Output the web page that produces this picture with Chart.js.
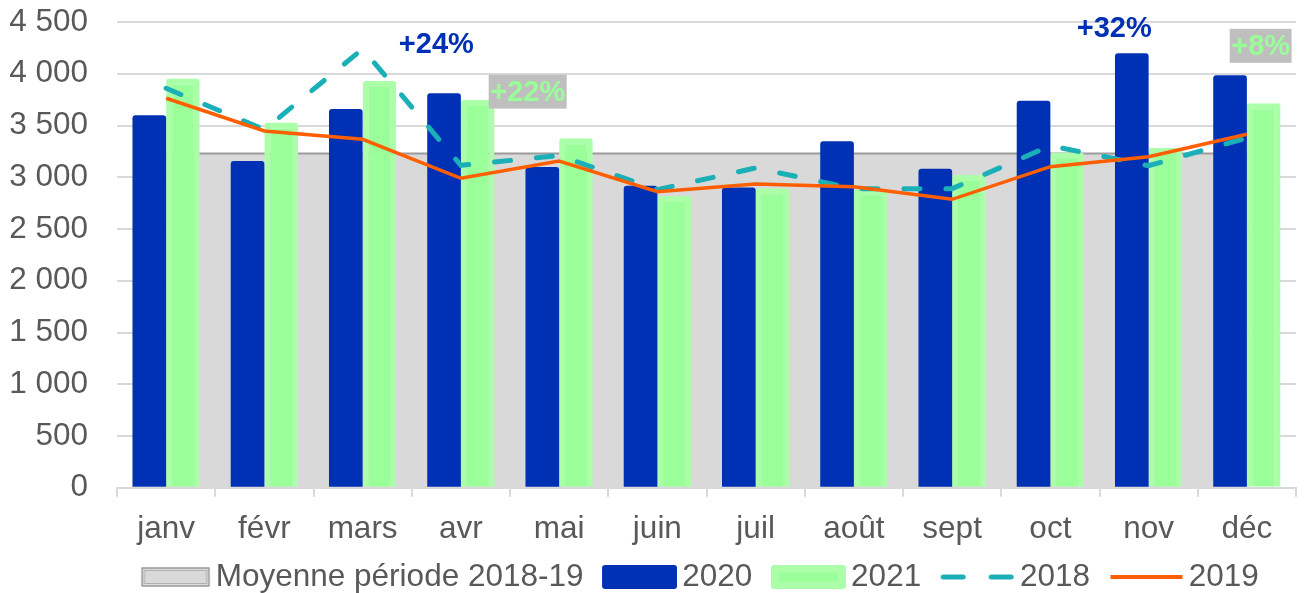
<!DOCTYPE html>
<html>
<head>
<meta charset="utf-8">
<script src="https://cdn.jsdelivr.net/npm/chart.js@4.4.1/dist/chart.umd.min.js"></script>
<style>
  html, body { margin: 0; padding: 0; background: #fff; }
  #wrap { width: 1306px; height: 593px; }
</style>
</head>
<body>
<div id="wrap"><canvas id="chart"></canvas></div>
<script>
// months on the x axis
var months = ['janv', 'févr', 'mars', 'avr', 'mai', 'juin', 'juil', 'août', 'sept', 'oct', 'nov', 'déc'];

// series
var moyenne1819 = [3230, 3230, 3230, 3230, 3230, 3230, 3230, 3230, 3230, 3230, 3230, 3230];
var values2020 = [3600, 3157, 3660, 3812, 3100, 2918, 2900, 3348, 3083, 3740, 4198, 3985];
var values2021 = [3953, 3528, 3930, 3747, 3377, 2819, 2894, 2884, 3022, 3238, 3286, 3715];
var values2018 = [3860, 3460, 4240, 3115, 3210, 2880, 3090, 2890, 2890, 3305, 3112, 3380];
var values2019 = [3763, 3447, 3367, 2990, 3157, 2861, 2935, 2909, 2787, 3102, 3199, 3415];

// y axis ticks
var yTicks = [0, 500, 1000, 1500, 2000, 2500, 3000, 3500, 4000, 4500];

// percentage notes (text, category position, value level)
var noteTexts = ['+24%', '+22%', '+32%', '+8%'];
var noteAt = [2.75, 3.68, 9.65, 11.14];
var noteLevel = [4283, 3827, 4442, 4270];

var FONT = "'Liberation Sans', Arial, sans-serif";
var GREY_TEXT = '#595959';
var BLUE = '#0031B4';
var GREEN = '#9BFF99';
var GREEN_EDGE = '#AAFFA8';
var TEAL = '#1BAFB8';
var ORANGE = '#FF5F00';

Chart.defaults.font.family = FONT;
Chart.defaults.font.size = 31.5;
Chart.defaults.color = GREY_TEXT;

function fmt(v) {
    // 4500 -> "4 500"
    return String(v).replace(/\B(?=(\d{3})+(?!\d))/g, ' ');
}

function roundRect(g, x, y, w, h, r) {
    g.beginPath();
    g.moveTo(x + r, y);
    g.lineTo(x + w - r, y);
    g.arcTo(x + w, y, x + w, y + r, r);
    g.lineTo(x + w, y + h - r);
    g.arcTo(x + w, y + h, x + w - r, y + h, r);
    g.lineTo(x + r, y + h);
    g.arcTo(x, y + h, x, y + h - r, r);
    g.lineTo(x, y + r);
    g.arcTo(x, y, x + r, y, r);
    g.closePath();
}

// legend swatches: the visible symbol sits in the right part of the image,
// so that it ends just before the legend text
function makeSwatch(kind) {
    var c = document.createElement('canvas');
    c.width = 98;
    c.height = 26;
    var g = c.getContext('2d');
    if (kind === 'moyenne') {
        g.fillStyle = '#D9D9D9';
        g.fillRect(29, 3.5, 68, 19);
        g.strokeStyle = '#8A8A8A';
        g.lineWidth = 1.2;
        g.strokeRect(29.5, 4, 67, 18);
        g.strokeStyle = '#B0B0B0';
        g.lineWidth = 1;
        g.strokeRect(32, 6.5, 62, 13);
    } else if (kind === 'bar2020') {
        g.fillStyle = BLUE;
        roundRect(g, 23, 1, 75, 24, 3);
        g.fill();
    } else if (kind === 'bar2021') {
        g.fillStyle = GREEN_EDGE;
        roundRect(g, 23, 1, 75, 24, 3);
        g.fill();
        g.fillStyle = GREEN;
        g.fillRect(31, 8.5, 59, 9);
    } else if (kind === 'line2018') {
        g.strokeStyle = TEAL;
        g.lineWidth = 5;
        g.lineCap = 'round';
        g.setLineDash([20, 28]);
        g.beginPath();
        g.moveTo(26.5, 13);
        g.lineTo(96, 13);
        g.stroke();
    } else {
        g.strokeStyle = ORANGE;
        g.lineWidth = 4;
        g.beginPath();
        g.moveTo(25, 13);
        g.lineTo(97, 13);
        g.stroke();
    }
    return c;
}

var swatches = [makeSwatch('moyenne'), makeSwatch('bar2020'), makeSwatch('bar2021'),
                makeSwatch('line2018'), makeSwatch('line2019')];

var noteStyles = [
    { color: BLUE, box: null },
    { color: GREEN, box: '#BFBFBF' },
    { color: BLUE, box: null },
    { color: GREEN, box: '#BFBFBF' }
];

var notesPlugin = {
    id: 'notes',
    afterDatasetsDraw: function(chart) {
        var ctx = chart.ctx;
        var xs = chart.scales.x, ys = chart.scales.y;
        ctx.save();
        ctx.font = 'bold 29px ' + FONT;
        ctx.textAlign = 'center';
        ctx.textBaseline = 'middle';
        for (var i = 0; i < noteTexts.length; i++) {
            var x = xs.getPixelForValue(noteAt[i]);
            var y = ys.getPixelForValue(noteLevel[i]);
            var st = noteStyles[i];
            if (st.box) {
                var w = ctx.measureText(noteTexts[i]).width + 3;
                ctx.fillStyle = st.box;
                ctx.fillRect(x - w / 2, y - 17, w, 34);
            }
            ctx.fillStyle = st.color;
            ctx.fillText(noteTexts[i], x, y + 1);
        }
        ctx.restore();
    }
};

new Chart(document.getElementById('chart'), {
    type: 'bar',
    data: {
        labels: months,
        datasets: [
            {
                type: 'line',
                label: 'Moyenne période 2018-19',
                data: moyenne1819,
                backgroundColor: '#D9D9D9',
                borderColor: '#9C9C9C',
                borderWidth: 2,
                fill: 'origin',
                pointRadius: 0,
                tension: 0,
                order: 5
            },
            {
                label: '2020',
                data: values2020,
                backgroundColor: BLUE,
                borderWidth: 0,
                borderRadius: 3,
                categoryPercentage: 0.685,
                barPercentage: 1,
                order: 2
            },
            {
                label: '2021',
                data: values2021,
                backgroundColor: GREEN,
                borderColor: GREEN_EDGE,
                borderWidth: 6,
                borderRadius: 3,
                categoryPercentage: 0.685,
                barPercentage: 1,
                order: 2
            },
            {
                type: 'line',
                label: '2018',
                data: values2018,
                borderColor: TEAL,
                backgroundColor: TEAL,
                borderWidth: 5,
                borderDash: [16, 26],
                borderCapStyle: 'round',
                pointRadius: 0,
                tension: 0,
                fill: false,
                order: 1
            },
            {
                type: 'line',
                label: '2019',
                data: values2019,
                borderColor: ORANGE,
                backgroundColor: ORANGE,
                borderWidth: 3.5,
                pointRadius: 0,
                tension: 0,
                fill: false,
                order: 0
            }
        ]
    },
    options: {
        responsive: true,
        maintainAspectRatio: false,
        animation: false,
        layout: { padding: { left: 5, right: 10, top: 22, bottom: -9.75 } },
        plugins: {
            tooltip: { enabled: false },
            legend: {
                position: 'bottom',
                align: 'start',
                fullSize: false,
                labels: {
                    usePointStyle: true,
                    pointStyleWidth: 77,
                    padding: 6,
                    color: GREY_TEXT,
                    font: { size: 31.5 },
                    sort: function(a, b) { return a.datasetIndex - b.datasetIndex; },
                    generateLabels: function(chart) {
                        var items = Chart.defaults.plugins.legend.labels.generateLabels(chart);
                        items.forEach(function(it) {
                            it.pointStyle = swatches[it.datasetIndex];
                        });
                        return items;
                    }
                }
            }
        },
        scales: {
            x: {
                grid: {
                    drawOnChartArea: false,
                    drawTicks: true,
                    tickLength: 9,
                    color: '#D9D9D9',
                    lineWidth: 2
                },
                border: { display: true, color: '#D9D9D9', width: 2 },
                ticks: { padding: 14, color: GREY_TEXT, maxRotation: 0, autoSkip: false },
                afterFit: function(s) { s.height = 67.5; }
            },
            y: {
                min: 0,
                max: 4500,
                afterBuildTicks: function(s) {
                    s.ticks = yTicks.map(function(v) { return { value: v }; });
                },
                grid: { color: '#D9D9D9', lineWidth: 2, drawTicks: false },
                border: { display: false },
                ticks: {
                    padding: 29,
                    color: GREY_TEXT,
                    callback: function(v) { return fmt(v); }
                },
                afterFit: function(s) {
                    s.width = 112;
                    s.paddingTop = 0;
                    s.paddingBottom = 0;
                }
            }
        }
    },
    plugins: [notesPlugin]
});
</script>
</body>
</html>
